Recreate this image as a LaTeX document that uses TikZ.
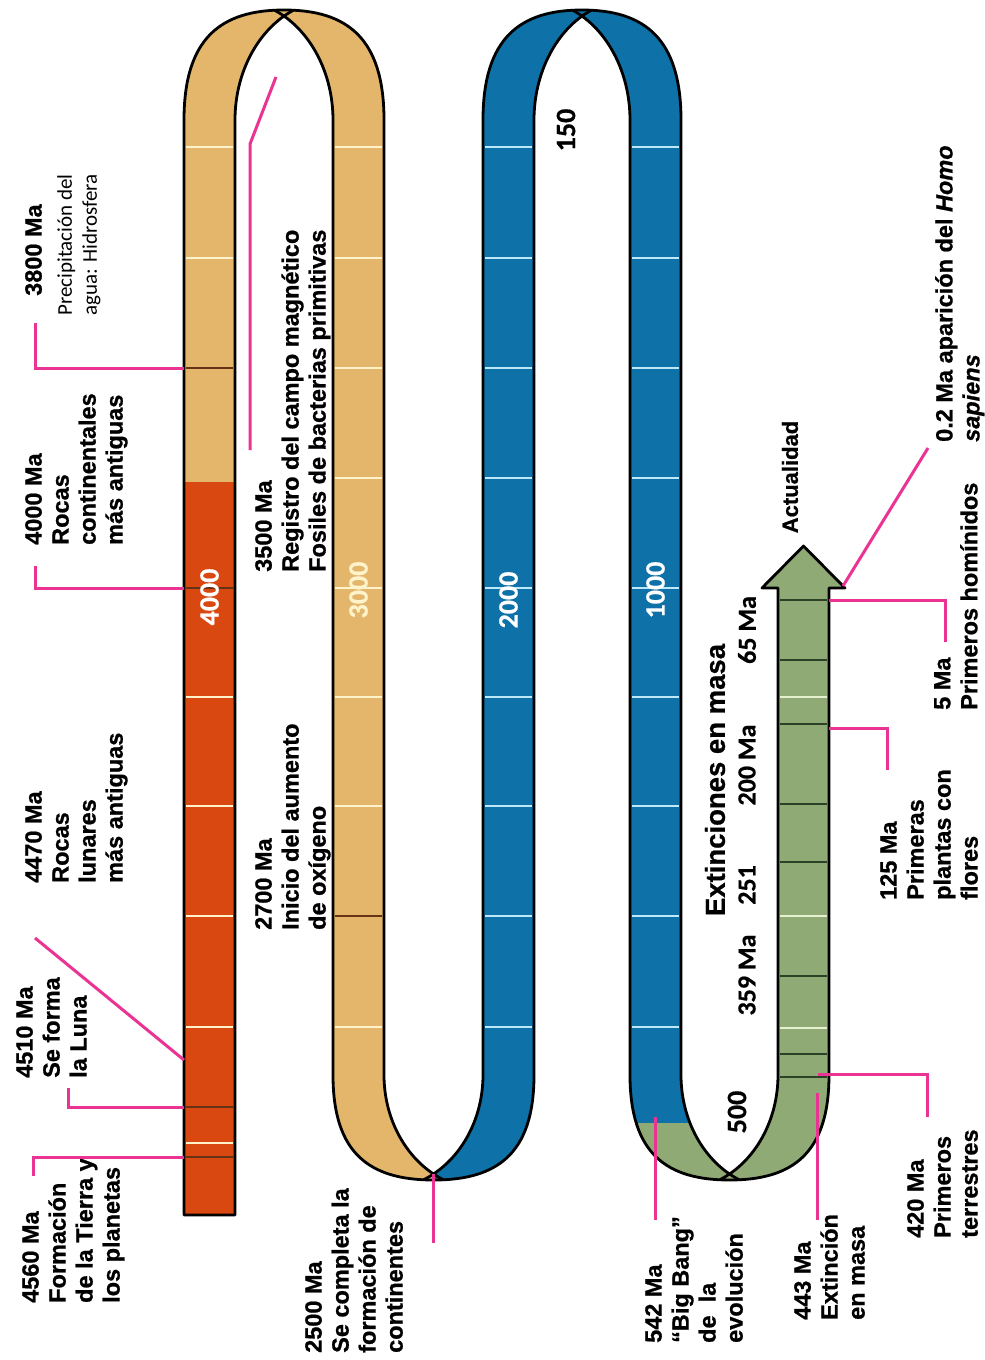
\documentclass[tikz,border=0pt]{standalone}
\usepackage{fontspec}
\setmainfont{Liberation Sans}[BoldFont={Liberation Sans Bold},
    ItalicFont={Liberation Sans Italic}, BoldItalicFont={Liberation Sans Bold Italic},
    BoldFeatures={FakeBold=0.8}, BoldItalicFeatures={FakeBold=0.8}]
\newfontfamily\calfont{Carlito}[BoldFont={Carlito Bold}, BoldFeatures={FakeBold=0.6}]
\usetikzlibrary{positioning}
\definecolor{rojo}{RGB}{217,72,16}
\definecolor{ocre}{RGB}{227,182,108}
\definecolor{azul}{RGB}{14,114,168}
\definecolor{verde}{RGB}{143,170,116}
\definecolor{rosa}{RGB}{234,51,146}
\definecolor{crema}{RGB}{255,243,204}
\definecolor{celeste}{RGB}{188,232,250}
\definecolor{verdeclaro}{RGB}{228,240,206}
\definecolor{pardo}{RGB}{100,50,20}
\definecolor{musgo}{RGB}{45,65,38}
\tikzset{
    x=1pt,
    y=-1pt,
    borde/.style = {draw=black, line width=2.8pt, line join=round},
    raya/.style = {draw, line width=2pt},
    hito/.style = {draw, line width=1.4pt},
    rosado/.style = {draw=rosa, line width=3pt},
    rotulo/.style = {rotate=90, anchor=north west, align=left, inner sep=0pt,
        font=\fontsize{23.5}{27}\selectfont\bfseries},
    cifra/.style = {rotate=90, inner sep=0pt,
        font=\calfont\fontsize{28}{30}\selectfont\bfseries},
    suave/.style = {font=\calfont\fontsize{21}{25}\selectfont},
}

\begin{document}
\begin{tikzpicture}
    \useasboundingbox (0,0) rectangle (985,1360);
    \fill[white] (0,0) rectangle (985,1360);

    % curvas
    \fill[ocre] (184,120) .. controls (184,38) and (221,10) .. (284,10)
        .. controls (347,10) and (384,38) .. (384,120) -- cycle;
    \begin{scope}
        \clip (333,1075) .. controls (333,1154) and (370,1180) .. (433.5,1180)
            .. controls (497,1180) and (534,1154) .. (534,1075) -- cycle;
        \fill[ocre] (320,1060) rectangle (433.5,1190);
        \fill[azul] (433.5,1060) rectangle (545,1190);
    \end{scope}
    \fill[azul] (483,120) .. controls (483,38) and (520,10) .. (582,10)
        .. controls (644,10) and (681,38) .. (681,120) -- cycle;
    \begin{scope}
        \clip (630,1075) .. controls (630,1154) and (667,1180) .. (729.5,1180)
            .. controls (792,1180) and (829,1154) .. (829,1075) -- cycle;
        \fill[verde] (620,1060) rectangle (840,1190);
        \fill[azul] (620,1060) rectangle (729.5,1123);
    \end{scope}
    \fill[white] (235,120) arc[start angle=180, end angle=240, x radius=98, y radius=120]
        arc[start angle=300, end angle=360, x radius=98, y radius=120]
        -- (333,126) -- (235,126) -- cycle;
    \fill[white] (384,1075) arc[start angle=180, end angle=120, x radius=99, y radius=114.3]
        arc[start angle=60, end angle=0, x radius=99, y radius=114.3]
        -- (483,1069) -- (384,1069) -- cycle;
    \fill[white] (534,120) arc[start angle=180, end angle=240, x radius=96, y radius=120]
        arc[start angle=300, end angle=360, x radius=96, y radius=120]
        -- (630,126) -- (534,126) -- cycle;
    \fill[white] (681,1075) arc[start angle=180, end angle=120, x radius=97, y radius=114.3]
        arc[start angle=60, end angle=0, x radius=97, y radius=114.3]
        -- (778,1069) -- (681,1069) -- cycle;

    % tiras
    \fill[ocre] (184,118) rectangle (235,482);
    \fill[rojo] (184,482) rectangle (235,1215);
    \fill[ocre] (333,118) rectangle (384,1077);
    \fill[azul] (483,118) rectangle (534,1077);
    \fill[azul] (630,118) rectangle (681,1077);
    \fill[verde] (778,586) rectangle (829,1077);
    \fill[verde] (762,588) -- (803.5,546) -- (845,588) -- cycle;

    \path[raya, crema] (186,147) -- (233,147) (186,258) -- (233,258)
        (186,697) -- (233,697) (186,806) -- (233,806) (186,916) -- (233,916)
        (186,1027) -- (233,1027) (186,1143) -- (233,1143);
    \path[hito, pardo] (186,368) -- (233,368) (186,588) -- (233,588)
        (186,1107) -- (233,1107) (186,1157) -- (233,1157);
    \path[raya, crema] (335,147) -- (382,147) (335,258) -- (382,258)
        (335,368) -- (382,368) (335,478) -- (382,478) (335,588) -- (382,588)
        (335,697) -- (382,697) (335,806) -- (382,806) (335,1027) -- (382,1027);
    \path[hito, pardo] (335,916) -- (382,916);
    \path[raya, celeste] (485,147) -- (532,147) (485,258) -- (532,258)
        (485,368) -- (532,368) (485,478) -- (532,478) (485,588) -- (532,588)
        (485,697) -- (532,697) (485,806) -- (532,806) (485,916) -- (532,916)
        (485,1027) -- (532,1027);
    \path[raya, celeste] (632,147) -- (679,147) (632,258) -- (679,258)
        (632,368) -- (679,368) (632,478) -- (679,478) (632,588) -- (679,588)
        (632,697) -- (679,697) (632,806) -- (679,806) (632,916) -- (679,916)
        (632,1027) -- (679,1027);
    \path[raya, verdeclaro] (780,697) -- (827,697) (780,916) -- (827,916)
        (780,1028) -- (827,1028);
    \path[hito, musgo] (780,600) -- (827,600) (780,660) -- (827,660)
        (780,724) -- (827,724) (780,804) -- (827,804) (780,862) -- (827,862)
        (780,976) -- (827,976) (780,1054) -- (827,1054) (780,1077) -- (827,1077);

    % contornos
    \path[borde] (235,120) -- (235,1215) -- (184,1215) -- (184,120)
        .. controls (184,38) and (221,10) .. (284,10)
        .. controls (347,10) and (384,38) .. (384,120) -- (384,1075)
        arc[start angle=180, end angle=113.3, x radius=99, y radius=114.3];
    \path[borde] (235,120) arc[start angle=180, end angle=246.3, x radius=98, y radius=120];
    \path[borde] (333,120) arc[start angle=0, end angle=-66.3, x radius=98, y radius=120];
    \path[borde] (333,120) -- (333,1075)
        .. controls (333,1154) and (370,1180) .. (433.5,1180)
        .. controls (497,1180) and (534,1154) .. (534,1075) -- (534,120)
        arc[start angle=180, end angle=246.3, x radius=96, y radius=120];
    \path[borde] (483,1075) arc[start angle=0, end angle=66.7, x radius=99, y radius=114.3];
    \path[borde] (483,1075) -- (483,120)
        .. controls (483,38) and (520,10) .. (582,10)
        .. controls (644,10) and (681,38) .. (681,120) -- (681,1075)
        arc[start angle=180, end angle=113.3, x radius=97, y radius=114.3];
    \path[borde] (630,120) arc[start angle=0, end angle=-66.3, x radius=96, y radius=120];
    \path[borde] (630,120) -- (630,1075)
        .. controls (630,1154) and (667,1180) .. (729.5,1180)
        .. controls (792,1180) and (829,1154) .. (829,1075) -- (829,588)
        -- (845,588) -- (803.5,546) -- (762,588) -- (778,588) -- (778,1075)
        arc[start angle=0, end angle=66.7, x radius=97, y radius=114.3];

    % cifras
    \node[cifra, white] (n4000) at (209.5,597) {4000};
    \node[cifra, crema] (n3000) at (358.5,590) {3000};
    \node[cifra, white] (n2000) at (508.5,600) {2000};
    \node[cifra, white] (n1000) at (655.5,590) {1000};
    \node[cifra] (n150) at (566,130) {150};
    \node[cifra] (n500) at (737,1112) {500};

    % rotulos
    \node[rotulo] (t4560) at (22,1303) {4560 Ma\\Formación\\de la Tierra y\\los planetas};
    \node[rotulo] (t4510) at (16,1078) {4510 Ma\\Se forma\\la Luna};
    \node[rotulo] (t4470) at (25,883) {4470 Ma\\Rocas\\lunares\\más antiguas};
    \node[rotulo] (t4000) at (25,545) {4000 Ma\\Rocas\\continentales\\más antiguas};
    \node[rotulo] (t3800) at (25,296) {3800 Ma};
    \node[rotulo, suave] (t3800b) at (57,316) {Precipitación del\\agua: Hidrosfera};
    \node[rotulo] (t3500) at (255,572) {3500 Ma\\Registro del campo magnético\\Fosiles de bacterias primitivas};
    \node[rotulo] (t2700) at (255,930) {2700 Ma\\Inicio del aumento\\de oxígeno};
    \node[rotulo] (t2500) at (305,1353) {2500 Ma\\Se completa la\\formación de\\continentes};
    \node[rotulo] (t542) at (645,1343) {542 Ma\\“Big Bang”\\de\ \ la\\evolución};
    \node[rotulo] (t443) at (794,1320) {443 Ma\\Extinción\\en masa};
    \node[rotulo] (t420) at (907,1238) {420 Ma\\Primeros\\terrestres};
    \node[rotulo] (t125) at (880,900) {125 Ma\\Primeras\\plantas con\\flores};
    \node[rotulo] (t5) at (934,710) {5 Ma\\Primeros homínidos};
    \node[rotulo] (t02) at (935,442) {0.2 Ma aparición del \textit{Homo}\\\textit{sapiens}};
    \node[rotate=90, inner sep=0pt, font=\fontsize{22}{26}\selectfont\bfseries] (actual) at (790,477) {Actualidad};
    \node[rotate=90, inner sep=0pt, font=\fontsize{27.5}{30}\selectfont\bfseries] (extin) at (715,780) {Extinciones en masa};
    \node[cifra, font=\calfont\fontsize{26}{28}\selectfont\bfseries] (x65) at (747,630) {65 Ma};
    \node[cifra, font=\calfont\fontsize{26}{28}\selectfont\bfseries] (x200) at (747,765) {200 Ma};
    \node[cifra, font=\calfont\fontsize{26}{28}\selectfont\bfseries] (x251) at (747,885) {251};
    \node[cifra, font=\calfont\fontsize{26}{28}\selectfont\bfseries] (x359) at (747,975) {359 Ma};

    % conectores
    \coordinate (c4560) at (184,1157);
    \coordinate (e4560) at (33,1176);
    \coordinate (c4510) at (184,1107);
    \coordinate (e4510) at (68,1088);
    \coordinate (c4470) at (184,1060);
    \coordinate (e4470) at (35,938);
    \coordinate (c4000) at (184,588);
    \coordinate (e4000) at (35,566);
    \coordinate (c3800) at (184,368);
    \coordinate (e3800) at (35,323);
    \coordinate (c3500) at (250,450);
    \coordinate (k3500) at (250,144);
    \coordinate (e3500) at (276,77);
    \coordinate (c2500) at (433.5,1174);
    \coordinate (e2500) at (433.5,1243);
    \coordinate (c542) at (655,1117);
    \coordinate (e542) at (655,1220);
    \coordinate (c443) at (817,1093);
    \coordinate (e443) at (817,1220);
    \coordinate (c420) at (818,1074);
    \coordinate (e420) at (927,1117);
    \coordinate (c125) at (829,728);
    \coordinate (e125) at (887,770);
    \coordinate (c5) at (829,600);
    \coordinate (e5) at (945,642);
    \coordinate (c02) at (843,586);
    \coordinate (e02) at (928,448);

    \path[rosado] (c4560) -| (e4560);
    \path[rosado] (c4510) -| (e4510);
    \path[rosado] (c4470) -- (e4470);
    \path[rosado] (c4000) -| (e4000);
    \path[rosado] (c3800) -| (e3800);
    \path[rosado] (c3500) -- (k3500) -- (e3500);
    \path[rosado] (c2500) -- (e2500);
    \path[rosado] (c542) -- (e542);
    \path[rosado] (c443) -- (e443);
    \path[rosado] (c420) -| (e420);
    \path[rosado] (c125) -| (e125);
    \path[rosado] (c5) -| (e5);
    \path[rosado] (c02) -- (e02);
\end{tikzpicture}
\end{document}
